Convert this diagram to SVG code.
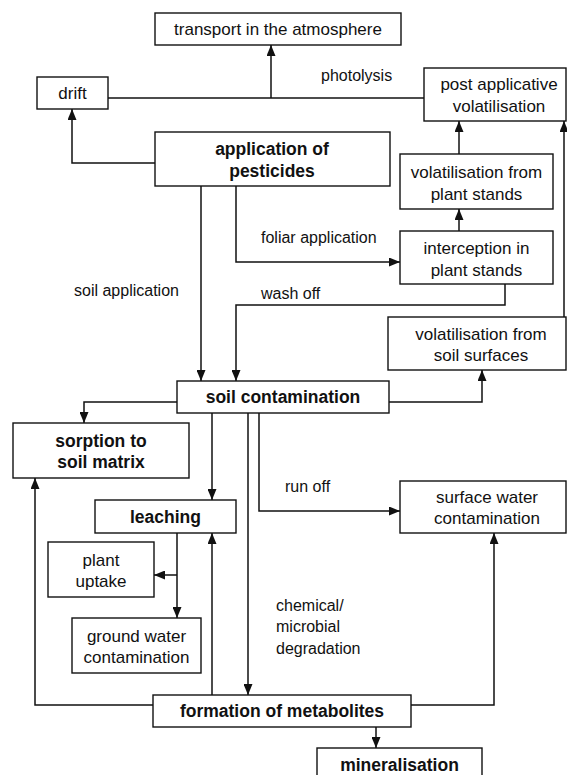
<svg xmlns="http://www.w3.org/2000/svg" width="567" height="775" viewBox="0 0 567 775">
<style>
.box{fill:#fff;stroke:#111;stroke-width:1.4}
.t{font-family:"Liberation Sans",Arial,sans-serif;font-size:17px;fill:#111;text-anchor:middle}
.b{font-family:"Liberation Sans",Arial,sans-serif;font-size:17.5px;font-weight:bold;fill:#111;text-anchor:middle}
.l{font-family:"Liberation Sans",Arial,sans-serif;font-size:16px;fill:#111}
.c{fill:none;stroke:#111;stroke-width:1.5}
</style>
<defs>
<marker id="ah" markerUnits="userSpaceOnUse" markerWidth="11" markerHeight="9" refX="11" refY="4.5" orient="auto">
<path d="M0,0 L11,4.5 L0,9 z" fill="#111"/>
</marker>
</defs>
<rect width="567" height="775" fill="#fff"/>
<g id="connectors">
<path class="c" d="M108,98 H424"/>
<path class="c" d="M271,98 V45" marker-end="url(#ah)"/>
<path class="c" d="M155,163 H72 V109" marker-end="url(#ah)"/>
<path class="c" d="M459,154 V121" marker-end="url(#ah)"/>
<path class="c" d="M459,231 V209" marker-end="url(#ah)"/>
<path class="c" d="M564,317 V121" marker-end="url(#ah)"/>
<path class="c" d="M201,186 V381" marker-end="url(#ah)"/>
<path class="c" d="M236,186 V262 H400" marker-end="url(#ah)"/>
<path class="c" d="M505,284 V305 H236 V381" marker-end="url(#ah)"/>
<path class="c" d="M389,402 H482 V370" marker-end="url(#ah)"/>
<path class="c" d="M177,402 H84 V423" marker-end="url(#ah)"/>
<path class="c" d="M212,413 V500" marker-end="url(#ah)"/>
<path class="c" d="M248,413 V695" marker-end="url(#ah)"/>
<path class="c" d="M259,413 V511 H400" marker-end="url(#ah)"/>
<path class="c" d="M177,533 V618" marker-end="url(#ah)"/>
<path class="c" d="M177,575 H154" marker-end="url(#ah)"/>
<path class="c" d="M212,695 V533" marker-end="url(#ah)"/>
<path class="c" d="M153,705 H35 V478" marker-end="url(#ah)"/>
<path class="c" d="M411,705 H494 V533" marker-end="url(#ah)"/>
<path class="c" d="M376,727 V748" marker-end="url(#ah)"/>
<text class="l" x="321" y="81">photolysis</text>
<text class="l" x="261" y="243">foliar application</text>
<text class="l" x="74" y="296">soil application</text>
<text class="l" x="261" y="299">wash off</text>
<text class="l" x="285" y="492">run off</text>
<text class="l" x="276" y="611">chemical/</text>
<text class="l" x="276" y="632">microbial</text>
<text class="l" x="276" y="654">degradation</text>
</g>
<g id="transport"><rect class="box" x="155" y="13" width="246" height="32"/><text class="t" x="278" y="35">transport in the atmosphere</text></g>
<g id="drift"><rect class="box" x="37" y="77" width="71" height="32"/><text class="t" x="72.5" y="99">drift</text></g>
<g id="postapp"><rect class="box" x="424" y="68" width="142" height="53"/><text class="t" x="499" y="90">post applicative</text><text class="t" x="499" y="112">volatilisation</text></g>
<g id="application"><rect class="box" x="155" y="132" width="235" height="54"/><text class="b" x="272" y="155">application of</text><text class="b" x="272" y="177">pesticides</text></g>
<g id="volplant"><rect class="box" x="400" y="154" width="153" height="55"/><text class="t" x="476.5" y="178">volatilisation from</text><text class="t" x="476.5" y="200">plant stands</text></g>
<g id="interception"><rect class="box" x="400" y="231" width="153" height="53"/><text class="t" x="476.5" y="254">interception in</text><text class="t" x="476.5" y="276">plant stands</text></g>
<g id="volsoil"><rect class="box" x="388" y="317" width="178" height="53"/><text class="t" x="481" y="340">volatilisation from</text><text class="t" x="481" y="361">soil surfaces</text></g>
<g id="soilcont"><rect class="box" x="177" y="381" width="212" height="32"/><text class="b" x="283" y="403">soil contamination</text></g>
<g id="sorption"><rect class="box" x="13" y="423" width="176" height="55"/><text class="b" x="101" y="447">sorption to</text><text class="b" x="101" y="468">soil matrix</text></g>
<g id="surfacewater"><rect class="box" x="400" y="481" width="166" height="52"/><text class="t" x="487" y="503">surface water</text><text class="t" x="487" y="524">contamination</text></g>
<g id="leaching"><rect class="box" x="95" y="500" width="141" height="33"/><text class="b" x="165.5" y="522.5">leaching</text></g>
<g id="plantuptake"><rect class="box" x="48" y="542" width="106" height="55"/><text class="t" x="101" y="566">plant</text><text class="t" x="101" y="587">uptake</text></g>
<g id="groundwater"><rect class="box" x="72" y="618" width="129" height="55"/><text class="t" x="136.5" y="642">ground water</text><text class="t" x="136.5" y="663">contamination</text></g>
<g id="formation"><rect class="box" x="153" y="695" width="258" height="32"/><text class="b" x="282" y="717">formation of metabolites</text></g>
<g id="mineralisation"><rect class="box" x="317" y="748" width="165" height="40"/><text class="b" x="399.5" y="771">mineralisation</text></g>
</svg>
